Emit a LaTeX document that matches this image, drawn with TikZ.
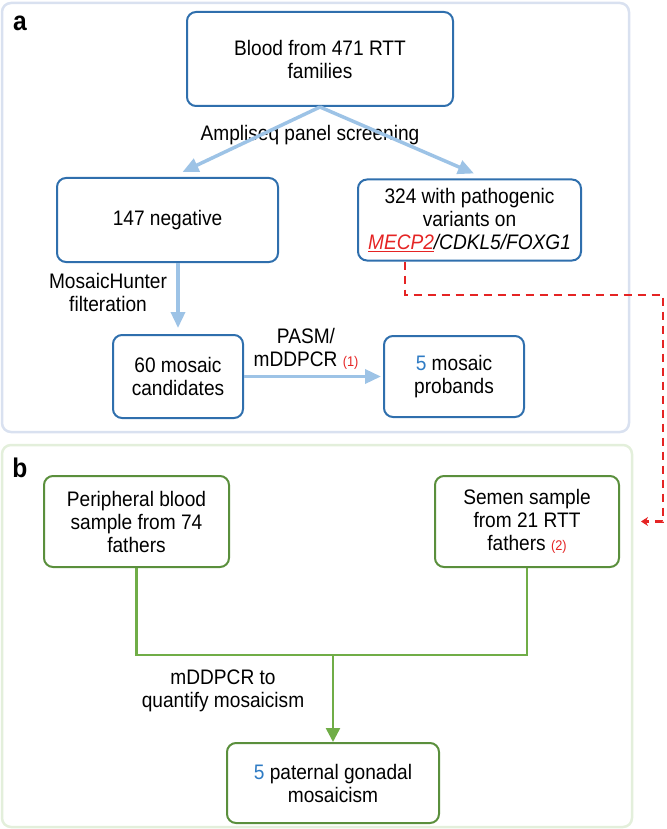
\documentclass[tikz,border=0pt]{standalone}
\usepackage{fontspec}
\setmainfont{Liberation Sans}[FakeStretch=0.91]
\usepackage{xcolor}
\usetikzlibrary{positioning, arrows.meta}
\definecolor{frameA}{HTML}{D9E1F0}
\definecolor{frameB}{HTML}{E3EFDB}
\definecolor{boxBlue}{HTML}{2F6FAD}
\definecolor{flowBlue}{HTML}{9DC3E6}
\definecolor{boxGreen}{HTML}{5A8F3C}
\definecolor{flowGreen}{HTML}{70AD47}
\definecolor{numBlue}{HTML}{2E7BC4}
\definecolor{linkRed}{HTML}{E52424}
\tikzset{
    panel/.style={rounded corners=9pt, line width=2.5pt},
    bluebox/.style={rectangle, draw=boxBlue, line width=2pt, rounded corners=9pt, fill=white, align=center, inner sep=0pt, font=\fontsize{21}{23}\selectfont},
    greenbox/.style={bluebox, draw=boxGreen},
    lbl/.style={align=center, font=\fontsize{21}{23}\selectfont},
    tag/.style={font=\fontsize{27}{30}\selectfont\bfseries},
    barrow/.style={-{Triangle[length=16pt,width=14pt]}, draw=flowBlue, line width=3.5pt},
    gline/.style={draw=flowGreen, line width=2.5pt},
    garrow/.style={gline, -{Triangle[length=14pt,width=14pt]}},
    redlink/.style={draw=linkRed, line width=2.3pt, dash pattern=on 8pt off 6pt, -{Stealth[length=7pt,width=9pt]}}
}
\newcommand{\smallred}[1]{{\fontsize{14}{15}\selectfont\color{linkRed}#1}}
\newcommand{\bluenum}[1]{{\color{numBlue}#1}}

\begin{document}
\begin{tikzpicture}[x=1pt, y=-1pt]
        \useasboundingbox (0,0) rectangle (666,829);

        % Panels
        \draw[panel, draw=frameA] (2,3) rectangle (629,432);
        \draw[panel, draw=frameB] (2,445) rectangle (632,827);
        \node[tag] (TagA) at (20,23) {a};
        \node[tag] (TagB) at (20,468) {b};

        % Screening
        \node[bluebox, minimum width=266pt, minimum height=94pt] (Blood) at (320,59) {Blood from 471 RTT\\families};
        \node[bluebox, minimum width=221pt, minimum height=84pt] (Neg) at (167.5,220) {147 negative};
        \node[bluebox, minimum width=223pt, minimum height=81pt, right=78pt of Neg] (Path) {324 with pathogenic\\variants on\\{\color{linkRed}\underline{\textit{MECP2}}}\textit{/CDKL5/FOXG1}};
        \node[lbl] (Screen) at (310,135) {Ampliseq panel screening};

        % Mosaic search
        \node[bluebox, minimum width=130pt, minimum height=83pt] (Cand) at (178,376.5) {60 mosaic\\candidates};
        \node[bluebox, minimum width=140pt, minimum height=81pt, right=139pt of Cand] (Prob) {\bluenum{5} mosaic\\probands};
        \node[lbl] (Hunter) at (108,292) {MosaicHunter\\filteration};
        \node[lbl] (Pasm) at (306,349) {PASM/\\mDDPCR \smallred{(1)}};

        % Fathers
        \node[greenbox, minimum width=185pt, minimum height=91pt] (Perip) at (136.5,521.5) {Peripheral blood\\sample from 74\\fathers};
        \node[greenbox, minimum width=184pt, minimum height=91pt, right=204pt of Perip] (Semen) {Semen sample\\from 21 RTT\\fathers \smallred{(2)}};
        \node[greenbox, minimum width=212pt, minimum height=80pt] (Gonad) at (333,783) {\bluenum{5} paternal gonadal\\mosaicism};
        \node[lbl] (Quant) at (223,691) {mDDPCR to\\quantify mosaicism};

        % Connections
        \draw[barrow] (Blood.south) -- ([xshift=15pt, yshift=5pt]Neg.north);
        \draw[barrow] (Blood.south) -- ([xshift=4.5pt, yshift=5pt]Path.north);
        \draw[barrow] (Neg.south -| Cand.north) -- ([yshift=6pt]Cand.north);
        \draw[barrow] (Cand.east) -- ([xshift=-2pt]Prob.west);

        % Link to semen samples
        \coordinate (Mecp) at ([xshift=-64.5pt]Path.south);
        \coordinate (LinkTurn) at (663,295);
        \coordinate (LinkEnd) at ([xshift=21pt]Semen.east);
        \draw[redlink] (Mecp) |- (LinkTurn) |- (LinkEnd);

        % Merge
        \coordinate (Merge) at (333,655);
        \draw[gline] (Perip.south) |- (Merge) -| (Semen.south);
        \draw[garrow] (Merge) -- (Gonad.north);

    \end{tikzpicture}
\end{document}
